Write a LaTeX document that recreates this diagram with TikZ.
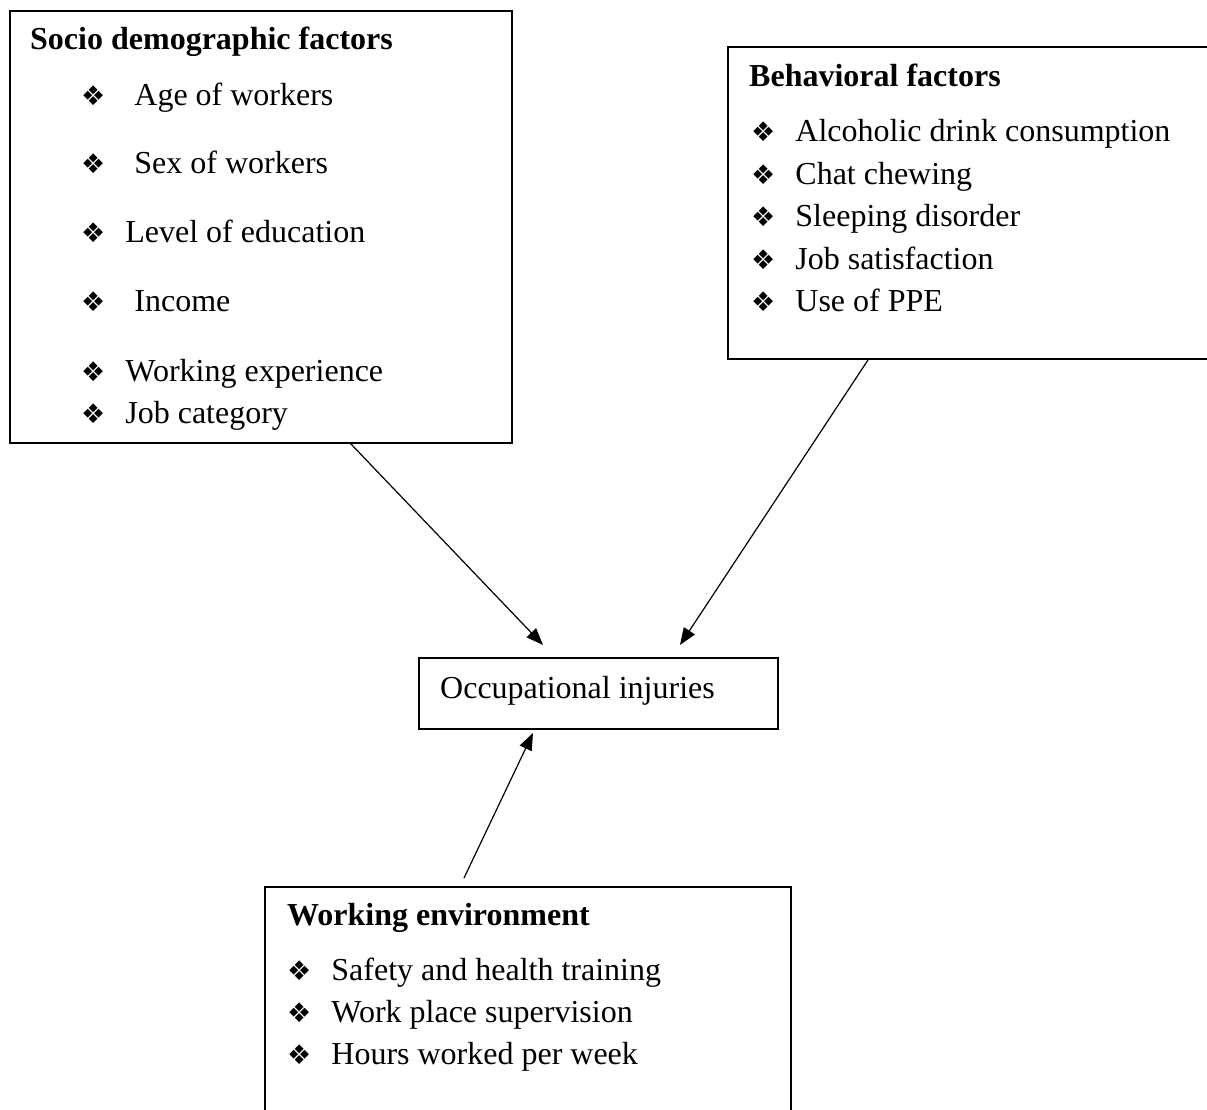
\documentclass[tikz,border=0pt]{standalone}
\usepackage{fontspec}
\setmainfont{Liberation Serif}
\newfontfamily\bulfont{DejaVu Sans}
\usetikzlibrary{arrows.meta}
\newcommand{\itm}[2]{{\bulfont\fontsize{27}{27}\selectfont\raisebox{0pt}{❖}}\hspace{#1}#2}
\tikzset{
  box/.style={draw, line width=1.6pt, inner sep=0pt, anchor=north west},
  txt/.style={inner sep=0pt, anchor=base west, font=\fontsize{32}{38}\selectfont},
  ttl/.style={txt, font=\fontsize{32}{38}\selectfont\bfseries},
  conn/.style={line width=1.2pt, -{Triangle[length=17pt,width=13pt]}}
}
\begin{document}
\begin{tikzpicture}[x=1pt,y=1pt]
\useasboundingbox (0,0) rectangle (1207,1110);
\clip (0,0) rectangle (1207,1110);
% boxes
\node[box, minimum width=502pt, minimum height=432pt] (socio) at (9,1100) {};
\node[box, minimum width=500pt, minimum height=312pt] (behav) at (727,1064) {};
\node[box, minimum width=359pt, minimum height=71pt] (occ) at (418,453) {};
\node[box, minimum width=526pt, minimum height=240pt] (work) at (264,224) {};
% socio texts
\node[ttl] (t1) at (30,1060) {Socio demographic factors};
\node[txt] (s1) at (81,1004) {\itm{29pt}{Age of workers}};
\node[txt] (s2) at (81,936) {\itm{29pt}{Sex of workers}};
\node[txt] (s3) at (81,867) {\itm{20pt}{Level of education}};
\node[txt] (s4) at (81,798) {\itm{29pt}{Income}};
\node[txt] (s5) at (81,728) {\itm{20pt}{Working experience}};
\node[txt] (s6) at (81,686) {\itm{20pt}{Job category}};
% behavioral texts
\node[ttl] (t2) at (749,1023) {Behavioral factors};
\node[txt] (b1) at (751,968) {\itm{20pt}{Alcoholic drink consumption}};
\node[txt] (b2) at (751,925) {\itm{20pt}{Chat chewing}};
\node[txt] (b3) at (751,883) {\itm{20pt}{Sleeping disorder}};
\node[txt] (b4) at (751,840) {\itm{20pt}{Job satisfaction}};
\node[txt] (b5) at (751,798) {\itm{20pt}{Use of PPE}};
% occupational
\node[txt] (o1) at (440,411) {Occupational injuries};
% working environment
\node[ttl] (t3) at (287,184) {Working environment};
\node[txt] (w1) at (287,129) {\itm{20pt}{Safety and health training}};
\node[txt] (w2) at (287,87) {\itm{20pt}{Work place supervision}};
\node[txt] (w3) at (287,45) {\itm{20pt}{Hours worked per week}};
% connector endpoints
\coordinate (a1s) at (350,667);
\coordinate (a1e) at (543,465);
\coordinate (a2s) at (868,750);
\coordinate (a2e) at (680,465);
\coordinate (a3s) at (464,232);
\coordinate (a3e) at (533,377);
\draw[conn] (a1s) -- (a1e);
\draw[conn] (a2s) -- (a2e);
\draw[conn] (a3s) -- (a3e);
\end{tikzpicture}
\end{document}
